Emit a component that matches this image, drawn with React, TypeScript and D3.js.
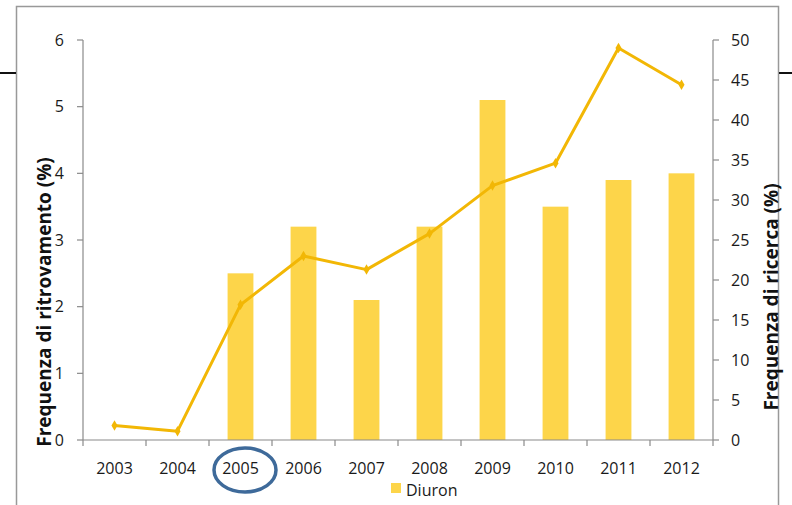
import React from "react";
import * as d3 from "d3";

const years = ["2003", "2004", "2005", "2006", "2007", "2008", "2009", "2010", "2011", "2012"];
const barValues: (number | null)[] = [null, null, 2.5, 3.2, 2.1, 3.2, 5.1, 3.5, 3.9, 4.0];
const lineValues = [1.8, 1.1, 16.9, 23.0, 21.3, 25.8, 31.8, 34.6, 49.0, 44.4];
const leftTicks = [0, 1, 2, 3, 4, 5, 6];
const rightTicks = [0, 5, 10, 15, 20, 25, 30, 35, 40, 45, 50];
const seriesName = "Diuron";
const leftTitle = "Frequenza di ritrovamento (%)";
const rightTitle = "Frequenza di ricerca (%)";

const W = 792, H = 505;
const plotL = 83, plotR = 713, plotT = 40, plotB = 440;
const barColor = "#FDD54A";
const lineColor = "#F2B705";
const axisColor = "#8a8a8a";
const font = "'Open Sans', sans-serif";

export default function App() {
  const x = d3.scaleBand<string>().domain(years).range([plotL, plotR]).paddingInner(0.59).paddingOuter(0.295);
  const xb = d3.scaleBand<string>().domain(years).range([plotL, plotR]);
  const yL = d3.scaleLinear().domain([0, 6]).range([plotB, plotT]);
  const yR = d3.scaleLinear().domain([0, 50]).range([plotB, plotT]);
  const cx = (y: string) => (xb(y) as number) + xb.bandwidth() / 2;
  const line = d3.line<number>().x((_, i) => cx(years[i])).y((v) => yR(v));
  const boundaries = years.map((y) => xb(y) as number).concat([plotR]);

  return (
    <svg width={W} height={H} style={{ position: "absolute", left: 0, top: 0, background: "#fff" }}>
      <rect x={0} y={0} width={W} height={H} fill="#fff" />
      {/* outer frame */}
      <rect x={16.5} y={6.5} width={762} height={520} fill="none" stroke="#999" strokeWidth={1.5} />
      <line x1={0} x2={16} y1={73} y2={73} stroke="#111" strokeWidth={2} />
      <line x1={779} x2={792} y1={73} y2={73} stroke="#111" strokeWidth={2} />

      {/* bars */}
      {years.map((y, i) =>
        barValues[i] == null ? null : (
          <rect key={y} x={x(y)} y={yL(barValues[i] as number)} width={x.bandwidth()} height={plotB - yL(barValues[i] as number)} fill={barColor} />
        )
      )}

      {/* axes */}
      <line x1={plotL} x2={plotL} y1={plotT} y2={plotB} stroke={axisColor} strokeWidth={1.2} />
      <line x1={plotR} x2={plotR} y1={plotT} y2={plotB} stroke={axisColor} strokeWidth={1.2} />
      <line x1={plotL} x2={plotR} y1={plotB} y2={plotB} stroke={axisColor} strokeWidth={1.2} />
      {leftTicks.map((t) => (
        <g key={"l" + t}>
          <line x1={plotL - 6} x2={plotL} y1={yL(t)} y2={yL(t)} stroke={axisColor} strokeWidth={1.2} />
          <text x={64} y={yL(t)} dy="0.35em" textAnchor="end" fontFamily={font} fontSize={16} fill="#1a1a1a">{t}</text>
        </g>
      ))}
      {rightTicks.map((t) => (
        <g key={"r" + t}>
          <line x1={plotR} x2={plotR + 6} y1={yR(t)} y2={yR(t)} stroke={axisColor} strokeWidth={1.2} />
          <text x={731} y={yR(t)} dy="0.35em" textAnchor="start" fontFamily={font} fontSize={16} fill="#1a1a1a">{t}</text>
        </g>
      ))}
      {boundaries.map((b, i) => (
        <line key={"b" + i} x1={b} x2={b} y1={plotB} y2={plotB + 6} stroke={axisColor} strokeWidth={1.2} />
      ))}
      {years.map((y) => (
        <text key={"x" + y} x={cx(y)} y={474} textAnchor="middle" fontFamily={font} fontSize={16} fill="#1a1a1a">{y}</text>
      ))}

      {/* line */}
      <path d={line(lineValues) as string} fill="none" stroke={lineColor} strokeWidth={3} strokeLinejoin="round" />
      {lineValues.map((v, i) => (
        <path key={"m" + i} d={d3.symbol(d3.symbolDiamond, 32)() as string} transform={`translate(${cx(years[i])},${yR(v)})`} fill={lineColor} />
      ))}

      {/* axis titles */}
      <text transform={`translate(51,302) rotate(-90)`} textAnchor="middle" fontFamily={font} fontWeight="bold" fontSize={19} fill="#111">{leftTitle}</text>
      <text transform={`translate(778,297) rotate(-90)`} textAnchor="middle" fontFamily={font} fontWeight="bold" fontSize={19} fill="#111">{rightTitle}</text>

      {/* legend */}
      <rect x={391} y={483} width={10} height={10} fill={barColor} />
      <text x={406} y={496} fontFamily={font} fontSize={16} fill="#1a1a1a">{seriesName}</text>

      {/* highlight ellipse */}
      <ellipse cx={245} cy={470} rx={31} ry={22} fill="none" stroke="#3E6A9A" strokeWidth={3.5} />
    </svg>
  );
}
